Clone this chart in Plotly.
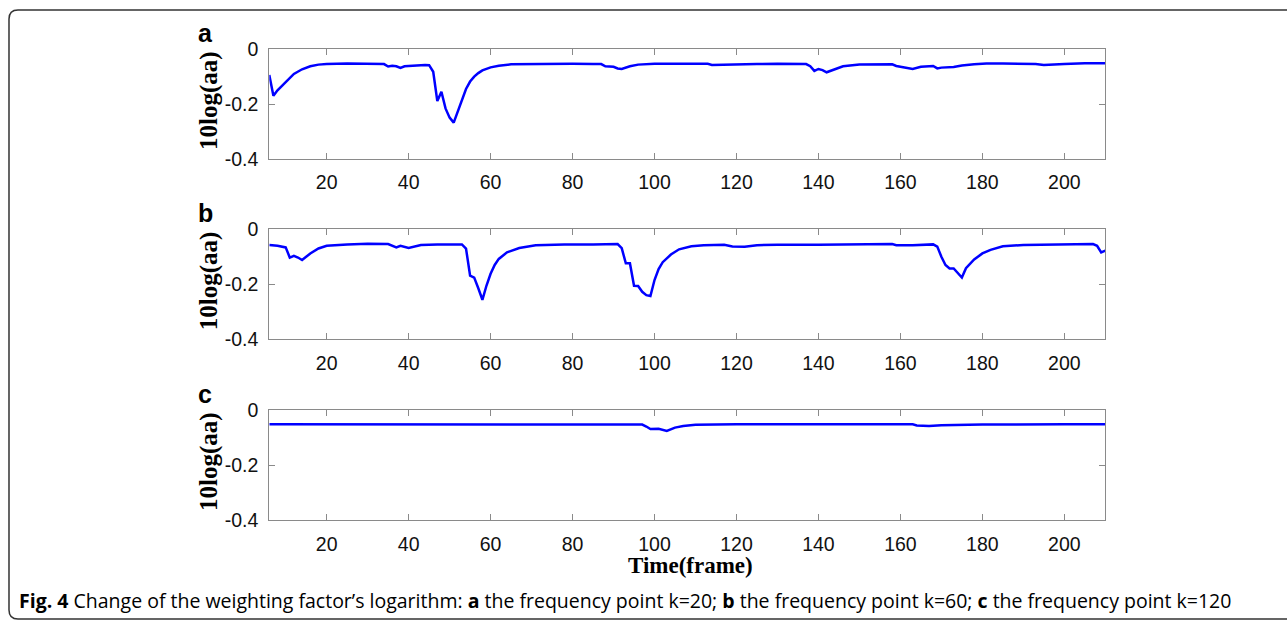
import plotly.graph_objects as go

W, H = 1287, 620

# ---------------- data ----------------
xa = [6, 7, 8, 9, 10, 12, 14, 16, 18, 20, 25, 30, 34, 35, 36, 37, 38, 39, 41, 43, 44, 45,
      46, 47, 48, 49, 50, 51, 52, 53, 54, 55, 56, 57, 58, 60, 62, 65, 70, 75, 80, 85, 87,
      88, 90, 91, 92, 94, 96, 100, 105, 110, 113, 114, 116, 120, 125, 130, 135, 137, 138,
      139, 140, 141, 142, 144, 146, 150, 155, 158, 159, 161, 163, 165, 168, 169, 170, 173,
      175, 178, 181, 185, 190, 193, 195, 197, 200, 205, 210]
ya = [-0.094, -0.17, -0.15, -0.135, -0.12, -0.09, -0.073, -0.062, -0.056, -0.054, -0.052,
      -0.052, -0.054, -0.063, -0.060, -0.062, -0.068, -0.062, -0.059, -0.056, -0.057, -0.058,
      -0.082, -0.189, -0.155, -0.216, -0.25, -0.268, -0.225, -0.18, -0.145, -0.118, -0.1,
      -0.087, -0.077, -0.066, -0.06, -0.055, -0.054, -0.053, -0.053, -0.054, -0.054,
      -0.062, -0.064, -0.07, -0.072, -0.062, -0.056, -0.053, -0.052, -0.052, -0.053, -0.057,
      -0.056, -0.054, -0.054, -0.053, -0.054, -0.054, -0.062, -0.079, -0.072, -0.076, -0.084,
      -0.072, -0.062, -0.056, -0.055, -0.055, -0.061, -0.066, -0.072, -0.064, -0.061, -0.07,
      -0.067, -0.065, -0.059, -0.055, -0.052, -0.052, -0.053, -0.054, -0.057, -0.055, -0.054,
      -0.051, -0.051]

xb = [6, 8, 10, 11, 12, 13, 14, 15, 16, 18, 20, 25, 30, 35, 37, 38, 40, 43, 47, 53, 54, 55,
      56, 57, 58, 59, 60, 61, 62, 64, 67, 71, 78, 85, 91, 92, 93, 94, 95, 96, 97, 98, 99,
      100, 101, 102, 104, 106, 109, 112, 117, 119, 122, 125, 130, 140, 150, 158, 159, 163,
      168, 169, 170, 171, 172, 173, 175, 176, 178, 180, 182, 185, 190, 200, 207, 208, 209, 210]
yb = [-0.057, -0.06, -0.066, -0.103, -0.097, -0.103, -0.112, -0.1, -0.088, -0.07, -0.06,
      -0.055, -0.053, -0.054, -0.066, -0.06, -0.068, -0.057, -0.055, -0.055, -0.07, -0.169,
      -0.176, -0.215, -0.257, -0.205, -0.162, -0.13, -0.108, -0.084, -0.068, -0.058, -0.055,
      -0.055, -0.054, -0.069, -0.124, -0.124, -0.206, -0.207, -0.228, -0.24, -0.243,
      -0.185, -0.145, -0.12, -0.092, -0.073, -0.062, -0.058, -0.056, -0.063, -0.064, -0.058,
      -0.056, -0.056, -0.055, -0.054, -0.058, -0.058, -0.055, -0.063, -0.1, -0.13, -0.143,
      -0.143, -0.176, -0.142, -0.11, -0.088, -0.075, -0.062, -0.057, -0.055, -0.054, -0.06,
      -0.084, -0.078]

xc = [6, 20, 40, 60, 80, 92, 97, 98, 99, 101, 103, 105, 107, 110, 120, 140, 163, 164, 167,
      170, 180, 200, 210]
yc = [-0.052, -0.052, -0.052, -0.052, -0.051, -0.051, -0.053, -0.06, -0.069, -0.068, -0.076,
      -0.064, -0.058, -0.054, -0.052, -0.052, -0.052, -0.056, -0.058, -0.055, -0.053, -0.052,
      -0.052]

x_ticks = [20, 40, 60, 80, 100, 120, 140, 160, 180, 200]
y_ticks = [0, -0.2, -0.4]
y_tick_text = ["0", "-0.2", "-0.4"]
panel_letters = ["a", "b", "c"]
y_title = "10log(aa)"
x_title = "Time(frame)"
caption_bold = "Fig. 4"
caption_rest = (" Change of the weighting factor’s logarithm: <b>a</b> the frequency point k=20; "
                "<b>b</b> the frequency point k=60; <b>c</b> the frequency point k=120")

# ---------------- layout geometry (pixels) ----------------
left_px, right_px = 269.3, 1105.3
panels_px = [(49.3, 158.7), (229.3, 339.0), (410.0, 520.0)]


def px_x(p):
    return p / W


def px_y(p):
    return 1 - p / H


fig = go.Figure()
series = [(xa, ya), (xb, yb), (xc, yc)]
for i, (xs, ys) in enumerate(series):
    n = "" if i == 0 else str(i + 1)
    fig.add_trace(go.Scatter(x=xs, y=ys, mode="lines",
                             line=dict(color="#0000FF", width=2.5),
                             xaxis="x" + n, yaxis="y" + n, showlegend=False,
                             hoverinfo="skip"))

axis_common = dict(showline=True, linecolor="#8a8a8a", linewidth=1.2, mirror="ticks",
                   ticks="inside", ticklen=6, tickcolor="#8a8a8a", tickwidth=1.2,
                   showgrid=False, zeroline=False, automargin=False,
                   tickfont=dict(family="Liberation Sans, Arial", size=19.5, color="#111"))

layout = dict(template="none", width=W, height=H, margin=dict(l=0, r=0, t=0, b=0, pad=0),
              plot_bgcolor="white", paper_bgcolor="white", showlegend=False)

for i, (top, bot) in enumerate(panels_px):
    n = "" if i == 0 else str(i + 1)
    layout["xaxis" + n] = dict(axis_common, domain=[px_x(left_px), px_x(right_px)],
                               range=[6, 210], tickvals=x_ticks, anchor="y" + n,
                               ticklabelstandoff=6)
    layout["yaxis" + n] = dict(axis_common, domain=[px_y(bot), px_y(top)],
                               range=[-0.4, 0], tickvals=y_ticks, ticktext=y_tick_text,
                               anchor="x" + n, ticklabelstandoff=6)

fig.update_layout(**layout)

ann = []
letter_y = [33, 213, 394]
for i, (top, bot) in enumerate(panels_px):
    ann.append(dict(text="<b>%s</b>" % panel_letters[i], x=px_x(205), y=px_y(letter_y[i]),
                    xref="paper", yref="paper", showarrow=False,
                    xanchor="center", yanchor="middle",
                    font=dict(family="Liberation Sans, Arial", size=25, color="black")))
    ann.append(dict(text="<b>%s</b>" % y_title, x=px_x(209), y=px_y((top + bot) / 2 - 3),
                    xref="paper", yref="paper", showarrow=False, textangle=-90,
                    xanchor="center", yanchor="middle",
                    font=dict(family="Liberation Serif, Times New Roman", size=25,
                              color="black")))
ann.append(dict(text="<b>%s</b>" % x_title, x=px_x(690), y=px_y(565), xref="paper",
                yref="paper", showarrow=False, xanchor="center", yanchor="middle",
                font=dict(family="Liberation Serif, Times New Roman", size=23, color="black")))
ann.append(dict(text="<b>%s</b>%s" % (caption_bold, caption_rest), x=px_x(17), y=px_y(600),
                xref="paper", yref="paper", showarrow=False, xanchor="left", yanchor="middle",
                font=dict(family="Open Sans", size=19.5, color="black")))
fig.update_layout(annotations=ann)

# rounded frame
r = 9
xl, yt, yb_ = 9, 10, 619
path = ("M %f,%f L %f,%f Q %f,%f %f,%f L %f,%f Q %f,%f %f,%f L %f,%f" % (
    px_x(1300), px_y(yt), px_x(xl + r), px_y(yt), px_x(xl), px_y(yt), px_x(xl), px_y(yt + r),
    px_x(xl), px_y(yb_ - r), px_x(xl), px_y(yb_), px_x(xl + r), px_y(yb_), px_x(1300), px_y(yb_)))
fig.add_shape(type="path", path=path, xref="paper", yref="paper",
              line=dict(color="#333333", width=1.5))

fig.write_html("out.html", config={"displayModeBar": False},
               post_script="document.body.style.margin='0px';"
                           "document.body.style.overflow='hidden';")
